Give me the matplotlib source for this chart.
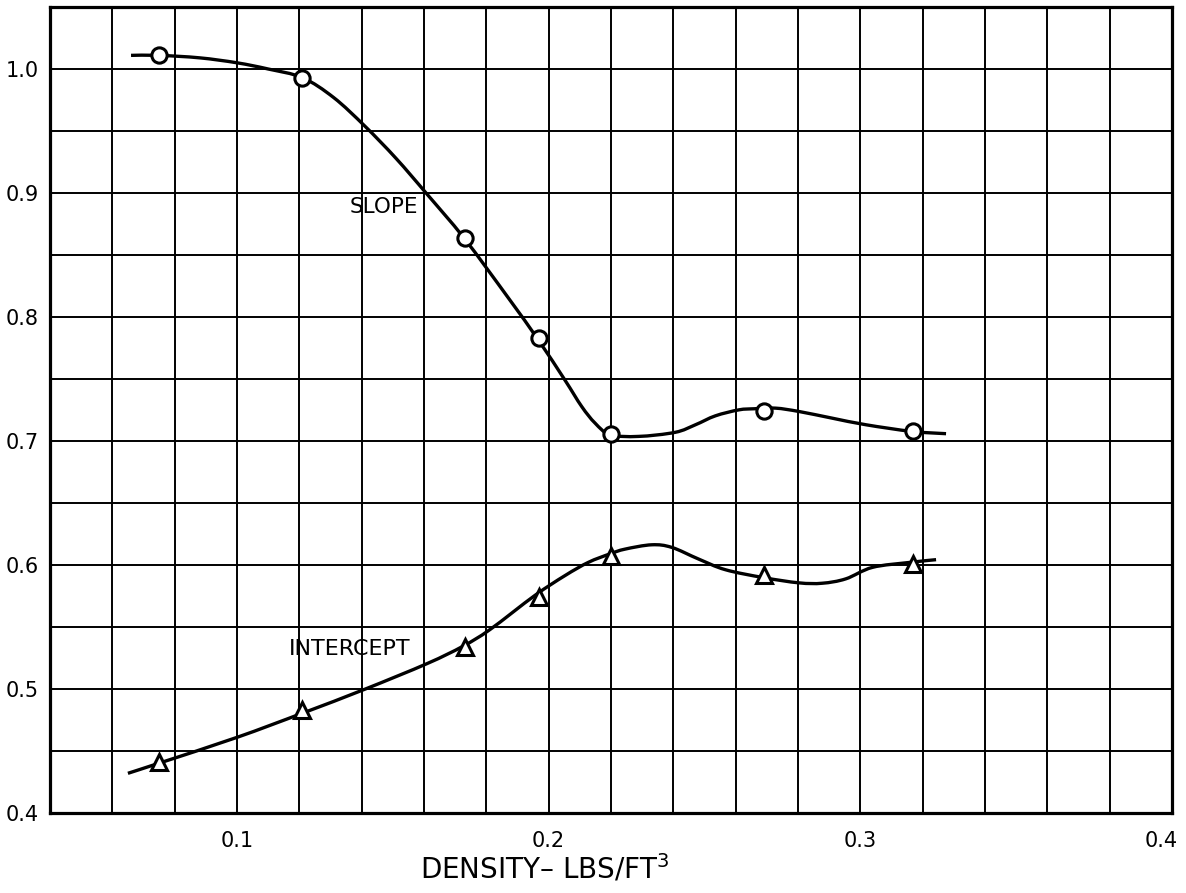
import matplotlib
matplotlib.use("Agg")
import matplotlib.pyplot as plt
from matplotlib.path import Path
from matplotlib.patches import PathPatch
import matplotlib.transforms as mtransforms
import numpy as np

# measured points
density = [0.075, 0.121, 0.173, 0.197, 0.220, 0.269, 0.317]
slope = [1.011, 0.993, 0.864, 0.783, 0.706, 0.724, 0.708]
intercept = [0.441, 0.483, 0.534, 0.574, 0.607, 0.592, 0.601]

# knots of the faired curves drawn through the points
slope_curve_x = [0.066, 0.075, 0.088, 0.100, 0.110, 0.121, 0.131, 0.141, 0.151,
                 0.161, 0.1729, 0.187, 0.1966, 0.2052, 0.2106, 0.2149, 0.2197,
                 0.2288, 0.2406, 0.2471, 0.2535, 0.261, 0.266, 0.2728, 0.2803,
                 0.291, 0.3018, 0.3166, 0.3275]
slope_curve_y = [1.011, 1.011, 1.009, 1.005, 1.000, 0.993, 0.977, 0.954, 0.928,
                 0.899, 0.8635, 0.8156, 0.7818, 0.7492, 0.7278, 0.7144, 0.7051,
                 0.7037, 0.7070, 0.7131, 0.7203, 0.7251, 0.7260, 0.7265, 0.7238,
                 0.7184, 0.7131, 0.7077, 0.7059]

intercept_curve_x = [0.065, 0.076, 0.100, 0.121, 0.141, 0.161, 0.1725, 0.1812,
                     0.1956, 0.2052, 0.2127, 0.2197, 0.2245, 0.2331, 0.2395,
                     0.2481, 0.2567, 0.269, 0.2803, 0.2878, 0.2953, 0.3039,
                     0.3159, 0.3243]
intercept_curve_y = [0.432, 0.441, 0.461, 0.4805, 0.4998, 0.5205, 0.5345, 0.548,
                     0.5755, 0.5914, 0.6021, 0.6090, 0.6128, 0.6163, 0.6142,
                     0.6048, 0.5962, 0.5898, 0.5856, 0.5853, 0.5888, 0.5981,
                     0.6021, 0.6043]

x_labels = {0.1: "0.1", 0.2: "0.2", 0.3: "0.3", 0.4: "0.4"}
y_labels = {0.4: "0.4", 0.5: "0.5", 0.6: "0.6", 0.7: "0.7", 0.8: "0.8",
            0.9: "0.9", 1.0: "1.0"}

plt.rcParams['font.family'] = ['DejaVu Sans']


def smooth_path(xs, ys):
    # cubic bezier segments through every knot (catmull-rom tangents)
    pts = np.column_stack([xs, ys])
    n = len(pts)
    verts = [pts[0]]
    codes = [Path.MOVETO]
    for i in range(n - 1):
        p0 = pts[max(i - 1, 0)]
        p1 = pts[i]
        p2 = pts[i + 1]
        p3 = pts[min(i + 2, n - 1)]
        c1 = p1 + (p2 - p0) / 6.0
        c2 = p2 - (p3 - p1) / 6.0
        verts += [c1, c2, p2]
        codes += [Path.CURVE4] * 3
    return Path(verts, codes)


fig = plt.figure(figsize=(11.86, 8.93), dpi=100)
ax = fig.add_axes([50 / 1186, 80 / 893, 1122 / 1186, 806 / 893])

ax.set_xlim(0.04, 0.40)
ax.set_ylim(0.40, 1.05)

# graph paper grid: 0.02 in x, 0.05 in y
xt = np.round(np.arange(0.04, 0.4001, 0.02), 2)
yt = np.round(np.arange(0.40, 1.0501, 0.05), 2)
ax.set_xticks(xt)
ax.set_yticks(yt)
ax.set_xticklabels([x_labels.get(v, "") for v in xt])
ax.set_yticklabels([y_labels.get(v, "") for v in yt])
ax.tick_params(length=0, labelsize=15, colors='black')
ax.tick_params(axis='x', pad=13)
ax.tick_params(axis='y', pad=8)
ax.grid(True, color='black', linewidth=1.4)
ax.set_axisbelow(True)
for sp in ax.spines.values():
    sp.set_linewidth(2.3)

# keep the last x label inside the sheet
last = ax.get_xticklabels()[-1]
last.set_horizontalalignment('right')
last.set_transform(last.get_transform() +
                   mtransforms.ScaledTranslation(6 / 100, 0, fig.dpi_scale_trans))

for cx, cy in [(slope_curve_x, slope_curve_y),
               (intercept_curve_x, intercept_curve_y)]:
    ax.add_patch(PathPatch(smooth_path(cx, cy), facecolor='none',
                           edgecolor='black', lw=2.4, capstyle='butt',
                           joinstyle='round', zorder=3))

ax.plot(density, slope, linestyle='none', marker='o', markersize=11,
        markerfacecolor='white', markeredgecolor='black', markeredgewidth=2.2,
        zorder=4)
ax.plot(density, intercept, linestyle='none', marker='^', markersize=11,
        markerfacecolor='white', markeredgecolor='black', markeredgewidth=2.2,
        zorder=4)

ax.text(0.147, 0.889, "SLOPE", fontsize=15.5, ha='center', va='center',
        zorder=5)
ax.text(0.1363, 0.5325, "INTERCEPT", fontsize=16, ha='center', va='center',
        zorder=5)

ax.text((545 - 50) / 1122, -(869 - 813) / 806, "DENSITY\u2013 LBS/FT$^3$",
        transform=ax.transAxes, fontsize=20, ha='center', va='center')

fig.savefig("out.png", dpi=100)
